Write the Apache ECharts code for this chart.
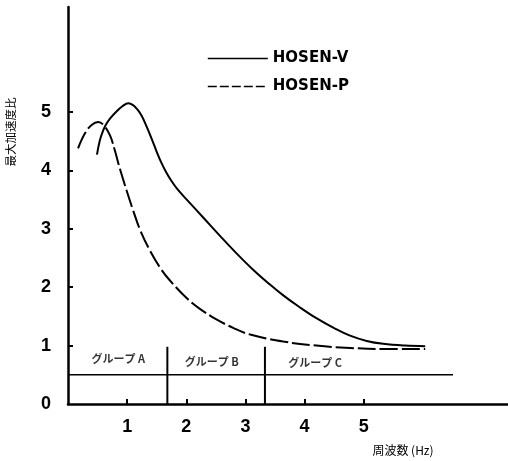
<!DOCTYPE html>
<html>
<head>
<meta charset="utf-8">
<script src="https://cdn.jsdelivr.net/npm/echarts@6/dist/echarts.min.js"></script>
<style>
  html, body { margin: 0; padding: 0; background: #fff; }
  #chart { width: 508px; height: 461px; }
</style>
</head>
<body>
<div id="chart"></div>
<script>
// Frequency (Hz) and maximum acceleration ratio for each structure
const hosenVFreq = [0.49, 0.54, 0.60, 0.65, 0.72, 0.82, 0.92, 1.02, 1.10, 1.17, 1.25, 1.33, 1.42, 1.50, 1.58, 1.66, 1.75, 1.85, 2.00, 2.29, 2.57, 2.85, 3.13, 3.41, 3.64, 3.90, 4.20, 4.50, 4.77, 5.05, 5.33, 5.70, 6.04];
const hosenVRatio = [4.27, 4.52, 4.70, 4.80, 4.90, 5.01, 5.10, 5.15, 5.12, 5.05, 4.93, 4.75, 4.53, 4.32, 4.13, 3.97, 3.82, 3.68, 3.51, 3.19, 2.88, 2.58, 2.30, 2.05, 1.86, 1.67, 1.47, 1.30, 1.17, 1.08, 1.03, 1.00, 0.99];

const hosenPFreq = [0.17, 0.29, 0.40, 0.51, 0.60, 0.71, 0.79, 0.88, 0.99, 1.10, 1.22, 1.39, 1.58, 1.72, 2.01, 2.23, 2.51, 2.80, 3.08, 3.64, 4.20, 4.77, 5.33, 6.04];
const hosenPRatio = [4.38, 4.64, 4.78, 4.83, 4.78, 4.60, 4.35, 4.02, 3.66, 3.32, 2.98, 2.62, 2.30, 2.12, 1.81, 1.63, 1.45, 1.30, 1.19, 1.07, 1.00, 0.96, 0.94, 0.94];

// Frequency groups: baseline level, boundaries and labels
const groupLevel = 0.5;
const groupEnd = 6.51;
const groupBounds = [1.68, 3.33];
const groupBoundTop = 0.98;
const groupNames = ['グループ A', 'グループ B', 'グループ C'];
const groupLabelFreq = [0.85, 2.43, 4.18];
const groupLabelRatio = [0.77, 0.72, 0.71];

// Axis ticks and labels
const xTicks = [1, 2, 3, 4, 5];
const yTicks = [1, 2, 3, 4, 5];
const yLabels = [0, 1, 2, 3, 4, 5];

const seriesNames = ['HOSEN-V', 'HOSEN-P'];

const zip = (xs, ys) => xs.map((x, i) => [x, ys[i]]);

const ink = '#000';
const numFont = { fontFamily: 'Liberation Sans', fontWeight: 'bold', fontSize: 18, color: ink };
const pDash = [18, 4];

const series = [
  {
    name: seriesNames[0], type: 'line', data: zip(hosenVFreq, hosenVRatio),
    smooth: 0.4, symbol: 'none', lineStyle: { color: ink, width: 2 }, itemStyle: { color: ink }, z: 5
  },
  {
    name: seriesNames[1], type: 'line', data: zip(hosenPFreq, hosenPRatio),
    smooth: 0.4, symbol: 'none', lineStyle: { color: ink, width: 2, type: pDash }, itemStyle: { color: ink }, z: 5
  },
  {
    name: 'groupBase', type: 'line', data: [[0, groupLevel], [groupEnd, groupLevel]],
    symbol: 'none', lineStyle: { color: ink, width: 1.6 }, silent: true
  }
];
groupBounds.forEach((b, i) => {
  series.push({
    name: 'groupBound' + i, type: 'line', data: [[b, 0], [b, groupBoundTop]],
    symbol: 'none', lineStyle: { color: ink, width: 2 }, silent: true
  });
});
series.push({
  name: 'groupLabels', type: 'scatter', symbolSize: 0, silent: true,
  data: groupNames.map((n, i) => ({ name: n, value: [groupLabelFreq[i], groupLabelRatio[i]] })),
  label: {
    show: true, position: 'inside', formatter: p => p.name,
    fontFamily: 'Noto Sans CJK JP', fontSize: 11, fontWeight: 'bold', color: ink
  }
});

// Legend keys show only the line, without a marker
const hiddenMarker = { color: 'rgba(0,0,0,0)', borderWidth: 0, opacity: 0 };

const chart = echarts.init(document.getElementById('chart'), null, { renderer: 'canvas' });
chart.setOption({
  backgroundColor: '#fff',
  animation: false,
  grid: { left: 68, right: 0, top: 7, bottom: 57, containLabel: false },
  legend: {
    data: [
      { name: seriesNames[0], itemStyle: hiddenMarker, lineStyle: { width: 1.6 } },
      { name: seriesNames[1], itemStyle: hiddenMarker, lineStyle: { width: 1.6, type: [9, 3] } }
    ],
    orient: 'vertical',
    left: 202, top: 46,
    itemWidth: 60, itemHeight: 16, itemGap: 13,
    selectedMode: false,
    textStyle: { fontFamily: 'DejaVu Sans', fontWeight: 'bold', fontSize: 15, color: ink }
  },
  xAxis: {
    type: 'value', min: 0, max: 7.44, interval: 1,
    axisLine: { lineStyle: { color: ink, width: 2.5 } },
    axisTick: { show: true, inside: true, length: 5, customValues: xTicks, lineStyle: { color: ink, width: 2 } },
    axisLabel: { customValues: xTicks, margin: 14, ...numFont },
    splitLine: { show: false }
  },
  yAxis: {
    type: 'value', min: 0, max: 6.8, interval: 1,
    axisLine: { show: true, lineStyle: { color: ink, width: 2.5 } },
    axisTick: { show: true, inside: true, length: 5, customValues: yTicks, lineStyle: { color: ink, width: 2 } },
    axisLabel: { customValues: yLabels, margin: 17, ...numFont },
    splitLine: { show: false }
  },
  graphic: [
    {
      type: 'text', x: 11, y: 132, rotation: Math.PI / 2,
      style: { text: '最大加速度比', fontFamily: 'Noto Sans CJK JP', fontSize: 11.5, fill: ink, align: 'center', verticalAlign: 'middle' }
    },
    {
      type: 'text', x: 403, y: 450,
      style: { text: '周波数 (Hz)', fontFamily: 'Noto Sans CJK JP', fontSize: 12, fill: ink, align: 'center', verticalAlign: 'middle' }
    }
  ],
  series
});
</script>
</body>
</html>
